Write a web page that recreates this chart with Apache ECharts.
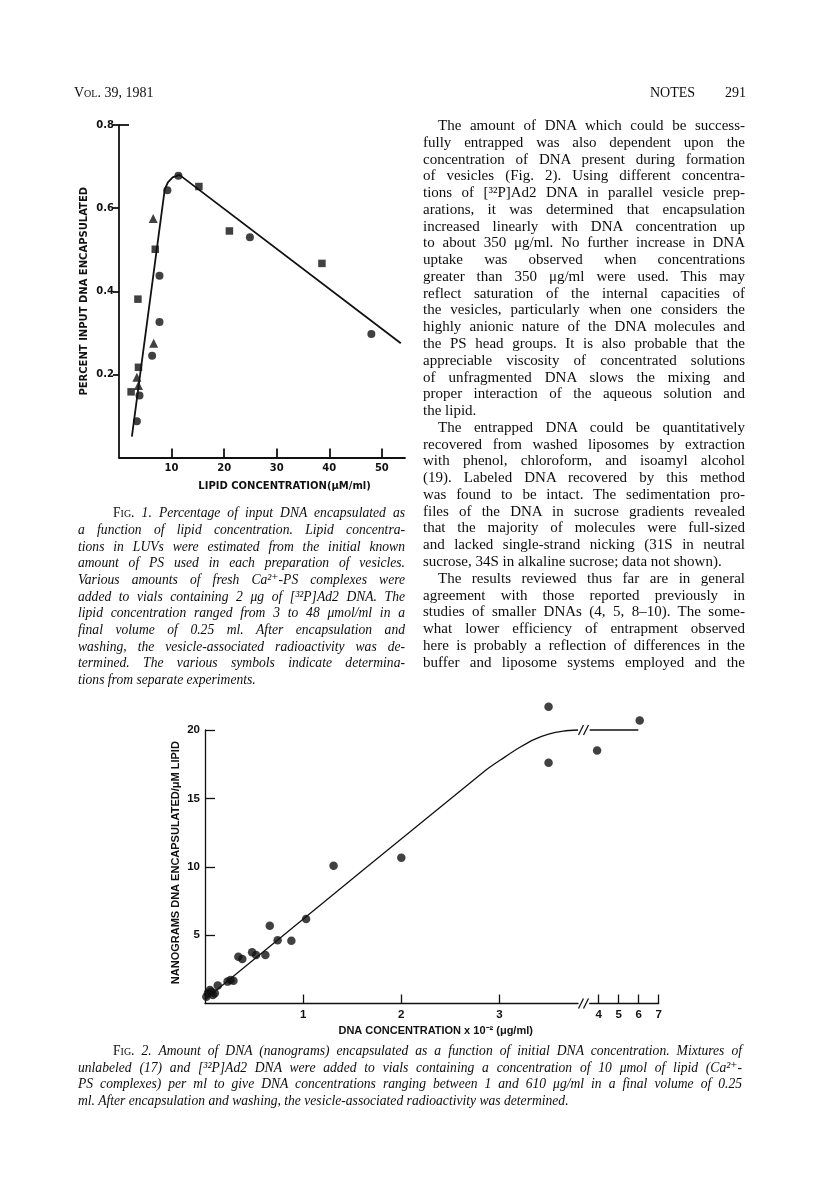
<!DOCTYPE html>
<html><head><meta charset="utf-8">
<script src="https://cdn.jsdelivr.net/npm/echarts@6/dist/echarts.min.js"></script>
<style>
html,body{margin:0;padding:0;background:#fff;}
#page{position:relative;width:816px;height:1204px;overflow:hidden;background:#fff;}
#chart{position:absolute;left:0;top:0;width:816px;height:1204px;}
.ln{position:absolute;white-space:nowrap;color:#0d0d0d;}
.sc{font-variant:small-caps;font-style:normal;}
</style></head>
<body><div id="page"><div id="chart"></div><div id="text"></div></div>
<script>
// ---------------- Figure 1 data (lipid µM/ml, percent input DNA encapsulated) ----------------
const fig1Circles   = [[11.3,0.678],[9.2,0.643],[7.7,0.437],[7.7,0.326],[24.9,0.530],[48.0,0.297],[6.3,0.245],[3.9,0.149],[3.4,0.087]];
const fig1Squares   = [[15.2,0.652],[6.9,0.501],[3.6,0.381],[21.0,0.545],[38.6,0.467],[3.7,0.217],[2.3,0.158]];
const fig1Triangles = [[6.5,0.575],[6.6,0.275],[3.4,0.193],[3.7,0.173]];
const fig1Fit       = [[2.45,0.05],[8.7,0.645],[9.3,0.662],[10.2,0.674],[11.5,0.68],[53.6,0.275]];
const fig1XTicks    = [10,20,30,40,50];
const fig1YTicks    = [0.2,0.4,0.6,0.8];

// ---------------- Figure 2 data (DNA conc x10^-2 µg/ml, ng DNA / µM lipid) ----------------
const fig2Points = [[0.014,0.5],[0.03,0.75],[0.05,0.99],[0.065,0.86],[0.08,0.62],[0.10,0.75],[0.13,1.32],
  [0.23,1.6],[0.26,1.72],[0.29,1.67],[0.34,3.42],[0.38,3.25],[0.48,3.74],[0.52,3.55],[0.615,3.55],
  [0.66,5.69],[0.74,4.62],[0.88,4.59],[1.03,6.18],[1.31,10.08],[2.0,10.66],[3.5,21.7],[3.5,17.6],
  [3.92,18.5],[6.05,20.7]];
const fig2Fit      = [[0,0.3],[2.85,17.0],[3.05,18.0],[3.2,18.7],[3.35,19.3],[3.5,19.7],[3.65,19.92],[3.8,20]];
const fig2FitHigh  = [[3.55,20],[5.98,20]];
const fig2XTicksLow  = [1,2,3];
const fig2XTicksHigh = [4,5,6,7];
const fig2YTicks     = [5,10,15,20];
const fig2BreakAt    = 3.8;

// ---------------- texts ----------------
const headerLeft = '<span class="sc">Vol.</span> 39, 1981';
const headerRight = 'NOTES';
const pageNo = '291';
const bodyLines = [
 ['The amount of DNA which could be success-',1,0],
 ['fully entrapped was also dependent upon the',0,0],
 ['concentration of DNA present during formation',0,0],
 ['of vesicles (Fig. 2). Using different concentra-',0,0],
 ['tions of [³²P]Ad2 DNA in parallel vesicle prep-',0,0],
 ['arations, it was determined that encapsulation',0,0],
 ['increased linearly with DNA concentration up',0,0],
 ['to about 350 μg/ml. No further increase in DNA',0,0],
 ['uptake was observed when concentrations',0,0],
 ['greater than 350 μg/ml were used. This may',0,0],
 ['reflect saturation of the internal capacities of',0,0],
 ['the vesicles, particularly when one considers the',0,0],
 ['highly anionic nature of the DNA molecules and',0,0],
 ['the PS head groups. It is also probable that the',0,0],
 ['appreciable viscosity of concentrated solutions',0,0],
 ['of unfragmented DNA slows the mixing and',0,0],
 ['proper interaction of the aqueous solution and',0,0],
 ['the lipid.',0,1],
 ['The entrapped DNA could be quantitatively',1,0],
 ['recovered from washed liposomes by extraction',0,0],
 ['with phenol, chloroform, and isoamyl alcohol',0,0],
 ['(19). Labeled DNA recovered by this method',0,0],
 ['was found to be intact. The sedimentation pro-',0,0],
 ['files of the DNA in sucrose gradients revealed',0,0],
 ['that the majority of molecules were full-sized',0,0],
 ['and lacked single-strand nicking (31S in neutral',0,0],
 ['sucrose, 34S in alkaline sucrose; data not shown).',0,1],
 ['The results reviewed thus far are in general',1,0],
 ['agreement with those reported previously in',0,0],
 ['studies of smaller DNAs (4, 5, 8–10). The some-',0,0],
 ['what lower efficiency of entrapment observed',0,0],
 ['here is probably a reflection of differences in the',0,0],
 ['buffer and liposome systems employed and the',0,0]
];
const cap1Lines = [
 ['<span class="sc">Fig.</span> 1. Percentage of input DNA encapsulated as',1,0],
 ['a function of lipid concentration. Lipid concentra-',0,0],
 ['tions in LUVs were estimated from the initial known',0,0],
 ['amount of PS used in each preparation of vesicles.',0,0],
 ['Various amounts of fresh Ca²⁺-PS complexes were',0,0],
 ['added to vials containing 2 μg of [³²P]Ad2 DNA. The',0,0],
 ['lipid concentration ranged from 3 to 48 μmol/ml in a',0,0],
 ['final volume of 0.25 ml. After encapsulation and',0,0],
 ['washing, the vesicle-associated radioactivity was de-',0,0],
 ['termined. The various symbols indicate determina-',0,0],
 ['tions from separate experiments.',0,1]
];
const cap2Lines = [
 ['<span class="sc">Fig.</span> 2. Amount of DNA (nanograms) encapsulated as a function of initial DNA concentration. Mixtures of',1,0],
 ['unlabeled (17) and [³²P]Ad2 DNA were added to vials containing a concentration of 10 μmol of lipid (Ca²⁺-',0,0],
 ['PS complexes) per ml to give DNA concentrations ranging between 1 and 610 μg/ml in a final volume of 0.25',0,0],
 ['ml. After encapsulation and washing, the vesicle-associated radioactivity was determined.',0,1]
];
const fig1YName = 'PERCENT INPUT DNA ENCAPSULATED';
const fig1XName = 'LIPID CONCENTRATION(μM/ml)';
const fig2YName = 'NANOGRAMS DNA ENCAPSULATED/μM LIPID';
const fig2XName = 'DNA CONCENTRATION x 10⁻² (μg/ml)';

// ---------------- text layout ----------------
const textRoot = document.getElementById('text');
function place(html, left, cy, size, font, style, extra){
  const d = document.createElement('div');
  d.className = 'ln';
  d.innerHTML = html;
  d.style.left = left + 'px';
  d.style.fontSize = size + 'px';
  d.style.lineHeight = (size*1.2) + 'px';
  d.style.top = (cy - size*0.6) + 'px';
  d.style.fontFamily = font;
  if (style) d.style.fontStyle = style;
  if (extra) Object.assign(d.style, extra);
  textRoot.appendChild(d);
  return d;
}
function block(lines, o){
  lines.forEach((ln, i) => {
    const [html, ind, last] = ln;
    const left = o.left + (ind ? o.indent : 0);
    const d = place(html, left, o.top + i*o.step, o.size, o.font, o.style);
    if (!last) {
      const W = o.width - (ind ? o.indent : 0);
      const w = d.getBoundingClientRect().width;
      const spaces = (d.textContent.match(/ /g) || []).length;
      if (spaces > 0) d.style.wordSpacing = ((W - w) / spaces) + 'px';
    }
  });
}
const serif = '"Liberation Serif","DejaVu Serif",serif';
place(headerLeft, 74, 93, 14, serif);
place(headerRight, 650, 93, 14, serif);
place(pageNo, 725, 93, 14, serif);
block(bodyLines, {left:423, top:125, step:16.77, width:322, indent:15, size:15, font:serif});
block(cap1Lines, {left:78, top:513.3, step:16.7, width:327, indent:35, size:13.6, font:serif, style:'italic'});
block(cap2Lines, {left:78, top:1051, step:16.8, width:664, indent:35, size:13.6, font:serif, style:'italic'});

// ---------------- chart ----------------
const chart = echarts.init(document.getElementById('chart'), null, {renderer:'canvas'});
const ink = '#111';
const f1Font = {fontFamily:'"DejaVu Sans",sans-serif', fontWeight:'bold', fontSize:10, color:ink};
const f2Font = {fontFamily:'"Liberation Sans",Arial,sans-serif', fontWeight:'bold', fontSize:11.5, color:ink};

const option = {
  animation:false,
  backgroundColor:'transparent',
  grid:[
    {left:119, top:125, width:286, height:332.5},
    {left:205, top:730, width:373, height:273.5},
    {left:589.7, top:730, width:69, height:273.5}
  ],
  xAxis:[
    {gridIndex:0, type:'value', min:0, max:54.4,
     axisLine:{show:true, onZero:false, lineStyle:{color:ink, width:1.8}},
     axisTick:{show:true, inside:true, length:9, customValues:fig1XTicks, lineStyle:{color:ink, width:1.8}},
     axisLabel:{show:true, customValues:fig1XTicks, margin:6, ...f1Font},
     splitLine:{show:false}},
    {gridIndex:1, type:'value', min:0, max:fig2BreakAt,
     axisLine:{show:true, onZero:false, lineStyle:{color:ink, width:1.3}},
     axisTick:{show:true, inside:true, length:9, customValues:fig2XTicksLow, lineStyle:{color:ink, width:1.3}},
     axisLabel:{show:true, customValues:fig2XTicksLow, margin:5, ...f2Font},
     splitLine:{show:false}},
    {gridIndex:2, type:'value', min:3.55, max:7,
     axisLine:{show:true, onZero:false, lineStyle:{color:ink, width:1.3}},
     axisTick:{show:true, inside:true, length:9, customValues:fig2XTicksHigh, lineStyle:{color:ink, width:1.3}},
     axisLabel:{show:true, customValues:fig2XTicksHigh, margin:5, ...f2Font},
     splitLine:{show:false}}
  ],
  yAxis:[
    {gridIndex:0, type:'value', min:0, max:0.8,
     axisLine:{show:true, onZero:false, lineStyle:{color:ink, width:1.8}},
     axisTick:{show:true, inside:false, length:6, customValues:fig1YTicks, lineStyle:{color:ink, width:1.8}},
     axisLabel:{show:true, customValues:fig1YTicks, margin:5, formatter:v=>v.toFixed(1), ...f1Font},
     splitLine:{show:false}},
    {gridIndex:1, type:'value', min:0, max:20,
     axisLine:{show:true, onZero:false, lineStyle:{color:ink, width:1.3}},
     axisTick:{show:true, inside:true, length:10, customValues:fig2YTicks, lineStyle:{color:ink, width:1.3}},
     axisLabel:{show:true, customValues:fig2YTicks, margin:5, ...f2Font},
     splitLine:{show:false}},
    {gridIndex:2, type:'value', min:0, max:20, show:false}
  ],
  series:[
    {type:'line', xAxisIndex:0, yAxisIndex:0, data:fig1Fit, symbol:'none', clip:false,
     lineStyle:{color:ink, width:1.8}},
    {type:'scatter', xAxisIndex:0, yAxisIndex:0, data:fig1Circles, symbol:'circle', symbolSize:8, clip:false, itemStyle:{color:ink}},
    {type:'scatter', xAxisIndex:0, yAxisIndex:0, data:fig1Squares, symbol:'rect', symbolSize:7.5, clip:false, itemStyle:{color:ink}},
    {type:'scatter', xAxisIndex:0, yAxisIndex:0, data:fig1Triangles, symbol:'triangle', symbolSize:9, clip:false, itemStyle:{color:ink}},
    {type:'line', xAxisIndex:1, yAxisIndex:1, data:fig2Fit, symbol:'none', smooth:0.3, clip:false,
     lineStyle:{color:ink, width:1.3}},
    {type:'line', xAxisIndex:2, yAxisIndex:2, data:fig2FitHigh, symbol:'none', clip:false,
     lineStyle:{color:ink, width:1.3}},
    {type:'scatter', xAxisIndex:1, yAxisIndex:1, data:fig2Points.filter(p=>p[0]<=fig2BreakAt), symbol:'circle', symbolSize:8.5, clip:false, itemStyle:{color:ink}},
    {type:'scatter', xAxisIndex:2, yAxisIndex:2, data:fig2Points.filter(p=>p[0]>fig2BreakAt), symbol:'circle', symbolSize:8.5, clip:false, itemStyle:{color:ink}}
  ]
};
chart.setOption(option);

// axis titles, top cap and break marks (positions derived from the axes)
const p1a = chart.convertToPixel({xAxisIndex:0, yAxisIndex:0}, [0, 0.4]);
const p1b = chart.convertToPixel({xAxisIndex:0, yAxisIndex:0}, [31.5, 0]);
const p1top = chart.convertToPixel({xAxisIndex:0, yAxisIndex:0}, [0, 0.8]);
const p2a = chart.convertToPixel({xAxisIndex:1, yAxisIndex:1}, [0, 10.3]);
const p2b = chart.convertToPixel({xAxisIndex:1, yAxisIndex:1}, [2.35, 0]);
const brTop = chart.convertToPixel({xAxisIndex:1, yAxisIndex:1}, [fig2BreakAt, 20]);
const brBot = chart.convertToPixel({xAxisIndex:1, yAxisIndex:1}, [fig2BreakAt, 0]);
function slash(x, y){
  return {type:'line', shape:{x1:x-2.5, y1:y+5, x2:x+2.5, y2:y-5}, style:{stroke:ink, lineWidth:1.3}};
}
const graphics = [
  {type:'text', x:p1a[0]-35, y:p1a[1], rotation:Math.PI/2,
   style:{text:fig1YName, fill:ink, font:'bold 10px "DejaVu Sans",sans-serif', textAlign:'center', textVerticalAlign:'middle'}},
  {type:'text', x:p1b[0], y:p1b[1]+29,
   style:{text:fig1XName, fill:ink, font:'bold 10px "DejaVu Sans",sans-serif', textAlign:'center', textVerticalAlign:'middle'}},
  {type:'line', shape:{x1:p1top[0], y1:p1top[1], x2:p1top[0]+10, y2:p1top[1]}, style:{stroke:ink, lineWidth:1.8}},
  {type:'text', x:p2a[0]-29, y:p2a[1], rotation:Math.PI/2,
   style:{text:fig2YName, fill:ink, font:'bold 11px "Liberation Sans",Arial,sans-serif', textAlign:'center', textVerticalAlign:'middle'}},
  {type:'text', x:p2b[0], y:p2b[1]+27,
   style:{text:fig2XName, fill:ink, font:'bold 11px "Liberation Sans",Arial,sans-serif', textAlign:'center', textVerticalAlign:'middle'}},
  slash(brTop[0]+3, brTop[1]), slash(brTop[0]+8, brTop[1]),
  slash(brBot[0]+3, brBot[1]), slash(brBot[0]+8, brBot[1])
];
chart.setOption({graphic:graphics});
</script>
</body></html>
